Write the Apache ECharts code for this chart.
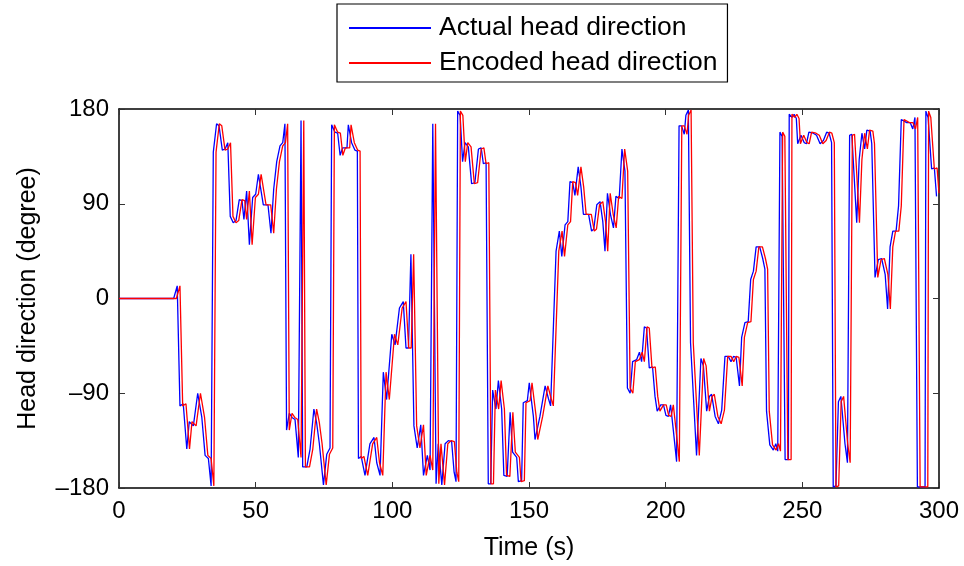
<!DOCTYPE html>
<html>
<head>
<meta charset="utf-8">
<script src="https://cdn.jsdelivr.net/npm/echarts@6/dist/echarts.min.js"></script>
<style>
html,body{margin:0;padding:0;background:#fff;}
#chart{width:964px;height:566px;}
</style>
</head>
<body>
<div id="chart"></div>
<script>
// Series names
var seriesNames = ['Actual head direction', 'Encoded head direction'];
// Axis tick values
var xTicks = [0, 50, 100, 150, 200, 250, 300];
var yTicks = [-180, -90, 0, 90, 180];
// Actual head direction: [time (s), degree]
var actual = [[0,0],[20,0],[21.3,12],[22.3,-102],[23.5,-100],[24.8,-143],[25.7,-117],[27.2,-121],[28.8,-90],[30.3,-113],[31.5,-149],[32.7,-152],[33.7,-178],[34.5,139],[35.7,166],[36.6,164],[37.8,141],[38.8,142],[39.8,148],[40.7,78],[41.8,72],[42.8,74],[44.0,94],[45.0,93],[45.7,75],[46.7,102],[47.7,51],[48.9,96],[50.0,99],[51.0,118],[52.8,89],[54.5,89],[55.6,62],[56.6,104],[57.7,130],[58.9,145],[59.9,148],[60.7,166],[61.1,166],[61.3,-125],[62.3,-109],[63.3,-113],[64.4,-115],[65.6,-151],[66.3,-151],[66.6,169],[67.2,-160],[68.7,-160],[69.9,-143],[71.3,-105],[72.3,-118],[73.3,-138],[74.8,-177],[76.0,-148],[77.2,-142],[77.8,165],[79.0,158],[80.0,157],[80.9,136],[81.8,143],[83.4,143],[83.9,165],[85.1,148],[86.3,141],[87.2,140],[87.6,-152],[88.6,-150],[90.0,-168],[91.8,-138],[93.3,-132],[94.3,-156],[95.5,-168],[96.7,-70],[97.9,-96],[99.8,-34],[101.0,-44],[102.6,-9],[104.0,-3],[105.0,-47],[105.9,-47],[106.8,42],[107.4,42],[107.9,-121],[109.1,-142],[110.4,-120],[111.4,-168],[112.8,-149],[113.8,-163],[114.8,166],[115.3,166],[116.0,-176],[116.8,-138],[118.1,-177],[119.3,-138],[120.5,-135],[121.7,-136],[122.6,-165],[123.3,-174],[123.9,178],[124.8,174],[125.7,130],[126.6,148],[127.8,144],[129.0,109],[130.2,110],[131.5,142],[132.5,143],[133.3,128],[134.3,129],[135.1,-176],[136.0,-176],[136.7,-87],[137.9,-105],[138.8,-78],[140.0,-105],[140.8,-168],[142.0,-169],[143.1,-108],[144.0,-146],[145.5,-151],[146.1,-174],[147.3,-173],[147.9,-99],[149.4,-97],[150.1,-80],[151.6,-112],[152.2,-134],[154.0,-112],[155.9,-83],[157.1,-95],[157.9,-102],[159.9,45],[161.1,64],[162.0,40],[163.2,70],[164.2,73],[165.0,111],[166.0,110],[166.8,98],[168.0,125],[169.0,106],[169.9,80],[171.8,80],[172.9,64],[173.7,66],[174.8,89],[176.0,92],[177.0,73],[177.8,45],[178.7,100],[179.8,80],[180.9,67],[181.8,97],[183.0,95],[184.0,142],[185.1,121],[186.0,-85],[187.0,-90],[187.9,-60],[189.4,-58],[190.4,-51],[191.2,-60],[192.2,-27],[193.0,-28],[194.0,-66],[195.2,-65],[196.1,-93],[196.9,-107],[198.2,-101],[199.2,-101],[200.1,-111],[201.0,-112],[201.8,-101],[202.8,-125],[204.0,-155],[204.9,164],[205.8,164],[206.8,156],[207.4,174],[208.3,179],[209.1,-42],[211.3,-149],[212.9,-57],[213.8,-64],[215.0,-107],[216.0,-93],[216.8,-91],[218.1,-112],[219.3,-119],[220.5,-106],[221.7,-55],[222.9,-55],[223.9,-60],[224.8,-55],[225.8,-56],[227.0,-83],[227.8,-37],[229.0,-23],[230.2,-22],[231.1,18],[232.1,26],[233.1,49],[234.4,49],[235.5,38],[236.3,28],[236.9,-107],[238.1,-139],[239.4,-144],[240.3,-138],[241.0,-145],[241.8,158],[242.6,154],[243.7,-153],[244.9,-153],[245.2,175],[246.2,172],[247.0,175],[247.8,171],[248.3,147],[249.5,155],[250.7,148],[251.5,147],[252.4,158],[254.0,157],[255.2,155],[256.5,147],[257.7,150],[258.9,158],[259.8,157],[260.7,148],[261.3,-179],[262.3,-178],[263.2,-98],[264.1,-93],[264.8,-94],[265.6,-138],[266.5,-156],[267.3,155],[268.1,156],[269.9,72],[270.8,132],[271.8,157],[272.8,142],[273.6,160],[274.8,159],[275.4,147],[276.6,20],[277.8,37],[279.0,38],[280.3,23],[281.2,-10],[282.1,49],[283.1,64],[284.3,64],[285.2,88],[286.2,170],[288.2,167],[289.5,167],[290.4,161],[291.2,172],[292.1,-179],[294.9,-179],[295.2,178],[296.0,172],[297.3,123],[298.3,124],[299.1,97]];
// Encoded head direction: [time (s), degree]
var encoded = [[0,0],[21,0],[22.3,12],[23.3,-102],[24.5,-100],[25.8,-143],[26.7,-117],[28.2,-121],[29.8,-90],[31.3,-113],[32.5,-149],[33.7,-152],[34.7,-178],[35.5,139],[36.7,166],[37.6,164],[38.8,141],[39.8,142],[40.8,148],[41.7,78],[42.8,72],[43.8,74],[45.0,94],[46.0,93],[46.7,75],[47.7,102],[48.7,51],[49.9,96],[51.0,99],[52.0,118],[53.8,89],[55.5,89],[56.6,62],[57.6,104],[58.7,130],[59.9,145],[60.9,148],[61.7,166],[62.1,166],[62.3,-125],[63.3,-109],[64.3,-113],[65.4,-115],[66.6,-151],[67.3,-151],[67.6,169],[68.2,-160],[69.7,-160],[70.9,-143],[72.3,-105],[73.3,-118],[74.3,-138],[75.8,-177],[77.0,-148],[78.2,-142],[78.8,165],[80.0,158],[81.0,157],[81.9,136],[82.8,143],[84.4,143],[84.9,165],[86.1,148],[87.3,141],[88.2,140],[88.6,-152],[89.6,-150],[91.0,-168],[92.8,-138],[94.3,-132],[95.3,-156],[96.5,-168],[97.7,-70],[98.9,-96],[100.8,-34],[102.0,-44],[103.6,-9],[105.0,-3],[106.0,-47],[106.9,-47],[107.8,42],[108.4,42],[108.9,-121],[110.1,-142],[111.4,-120],[112.4,-168],[113.8,-149],[114.8,-163],[115.8,166],[116.3,166],[117.0,-176],[117.8,-138],[119.1,-177],[120.3,-138],[121.5,-135],[122.7,-136],[123.6,-165],[124.3,-174],[124.9,178],[125.8,174],[126.7,130],[127.6,148],[128.8,144],[130.0,109],[131.2,110],[132.5,142],[133.5,143],[134.3,128],[135.3,129],[136.1,-176],[137.0,-176],[137.7,-87],[138.9,-105],[139.8,-78],[141.0,-105],[141.8,-168],[143.0,-169],[144.1,-108],[145.0,-146],[146.5,-151],[147.1,-174],[148.3,-173],[148.9,-99],[150.4,-97],[151.1,-80],[152.6,-112],[153.2,-134],[155.0,-112],[156.9,-83],[158.1,-95],[158.9,-102],[160.9,45],[162.1,64],[163.0,40],[164.2,70],[165.2,73],[166.0,111],[167.0,110],[167.8,98],[169.0,125],[170.0,106],[170.9,80],[172.8,80],[173.9,64],[174.7,66],[175.8,89],[177.0,92],[178.0,73],[178.8,45],[179.7,100],[180.8,80],[181.9,67],[182.8,97],[184.0,95],[185.0,142],[186.1,121],[187.0,-85],[188.0,-90],[188.9,-60],[190.4,-58],[191.4,-51],[192.2,-60],[193.2,-27],[194.0,-28],[195.0,-66],[196.2,-65],[197.1,-93],[197.9,-107],[199.2,-101],[200.2,-101],[201.1,-111],[202.0,-112],[202.8,-101],[203.8,-125],[205.0,-155],[205.9,164],[206.8,164],[207.8,156],[208.4,174],[209.3,179],[210.1,-42],[212.3,-149],[213.9,-57],[214.8,-64],[216.0,-107],[217.0,-93],[217.8,-91],[219.1,-112],[220.3,-119],[221.5,-106],[222.7,-55],[223.9,-55],[224.9,-60],[225.8,-55],[226.8,-56],[228.0,-83],[228.8,-37],[230.0,-23],[231.2,-22],[232.1,18],[233.1,26],[234.1,49],[235.4,49],[236.5,38],[237.3,28],[237.9,-107],[239.1,-139],[240.4,-144],[241.3,-138],[242.0,-145],[242.8,158],[243.6,154],[244.7,-153],[245.9,-153],[246.2,175],[247.2,172],[248.0,175],[248.8,171],[249.3,147],[250.5,155],[251.7,148],[252.5,147],[253.4,158],[255.0,157],[256.2,155],[257.5,147],[258.7,150],[259.9,158],[260.8,157],[261.7,148],[262.3,-179],[263.3,-178],[264.2,-98],[265.1,-93],[265.8,-94],[266.6,-138],[267.5,-156],[268.3,155],[269.1,156],[270.9,72],[271.8,132],[272.8,157],[273.8,142],[274.6,160],[275.8,159],[276.4,147],[277.6,20],[278.8,37],[280.0,38],[281.3,23],[282.2,-10],[283.1,49],[284.1,64],[285.3,64],[286.2,88],[287.2,170],[289.2,167],[290.5,167],[291.4,161],[292.2,172],[293.1,-179],[295.9,-179],[296.2,178],[297.0,172],[298.3,123],[299.3,124],[300,100]];

var FONT = 'Liberation Sans, Arial, Helvetica, sans-serif';
function fmt(v){ return String(v).replace('-', '\u2013'); }

var chart = echarts.init(document.getElementById('chart'), null, {renderer:'canvas'});
var axisLineStyle = {color:'#000', width:1.5};
var tickStyle = {show:true, inside:true, length:6, lineStyle:{color:'#333', width:1}};

chart.setOption({
  animation:false,
  backgroundColor:'#fff',
  grid:{left:119, right:25, top:109, bottom:73},
  legend:{
    orient:'vertical', left:337, top:4,
    data:seriesNames,
    itemWidth:82, itemHeight:14, itemGap:5,
    padding:[9,10,4,11],
    borderColor:'#000', borderWidth:1.2,
    itemStyle:{opacity:0},
    textStyle:{fontFamily:FONT, fontSize:26.5, color:'#000', lineHeight:30, padding:[0,0,0,3]},
    selectedMode:false
  },
  xAxis:[{
    type:'value', min:xTicks[0], max:xTicks[xTicks.length-1], interval:50,
    position:'bottom',
    name:'Time (s)', nameLocation:'middle', nameGap:48,
    nameTextStyle:{fontFamily:FONT, fontSize:25, color:'#000'},
    axisLine:{show:true, onZero:false, lineStyle:axisLineStyle},
    axisTick:tickStyle,
    axisLabel:{fontFamily:FONT, fontSize:24, color:'#000', margin:11, formatter:fmt},
    splitLine:{show:false}
  },{
    type:'value', min:xTicks[0], max:xTicks[xTicks.length-1], interval:50,
    position:'top',
    axisLine:{show:true, onZero:false, lineStyle:axisLineStyle},
    axisTick:tickStyle, axisLabel:{show:false}, splitLine:{show:false}
  }],
  yAxis:[{
    type:'value', min:yTicks[0], max:yTicks[yTicks.length-1], interval:90,
    position:'left',
    name:'Head direction (degree)', nameLocation:'middle', nameGap:78,
    nameTextStyle:{fontFamily:FONT, fontSize:25, color:'#000'},
    axisLine:{show:true, onZero:false, lineStyle:axisLineStyle},
    axisTick:tickStyle,
    axisLabel:{fontFamily:FONT, fontSize:24, color:'#000', margin:10, formatter:fmt},
    splitLine:{show:false}
  },{
    type:'value', min:yTicks[0], max:yTicks[yTicks.length-1], interval:90,
    position:'right',
    axisLine:{show:true, onZero:false, lineStyle:axisLineStyle},
    axisTick:tickStyle, axisLabel:{show:false}, splitLine:{show:false}
  }],
  series:[{
    name:seriesNames[0], type:'line', data:actual, symbol:'none', showSymbol:false,
    xAxisIndex:0, yAxisIndex:0,
    lineStyle:{color:'#0000ff', width:1.3}, itemStyle:{color:'#0000ff'},
    emphasis:{disabled:true}, clip:true
  },{
    name:seriesNames[1], type:'line', data:encoded, symbol:'none', showSymbol:false,
    xAxisIndex:0, yAxisIndex:0,
    lineStyle:{color:'#ff0000', width:1.3}, itemStyle:{color:'#ff0000'},
    emphasis:{disabled:true}, clip:true
  }]
});
</script>
</body>
</html>
